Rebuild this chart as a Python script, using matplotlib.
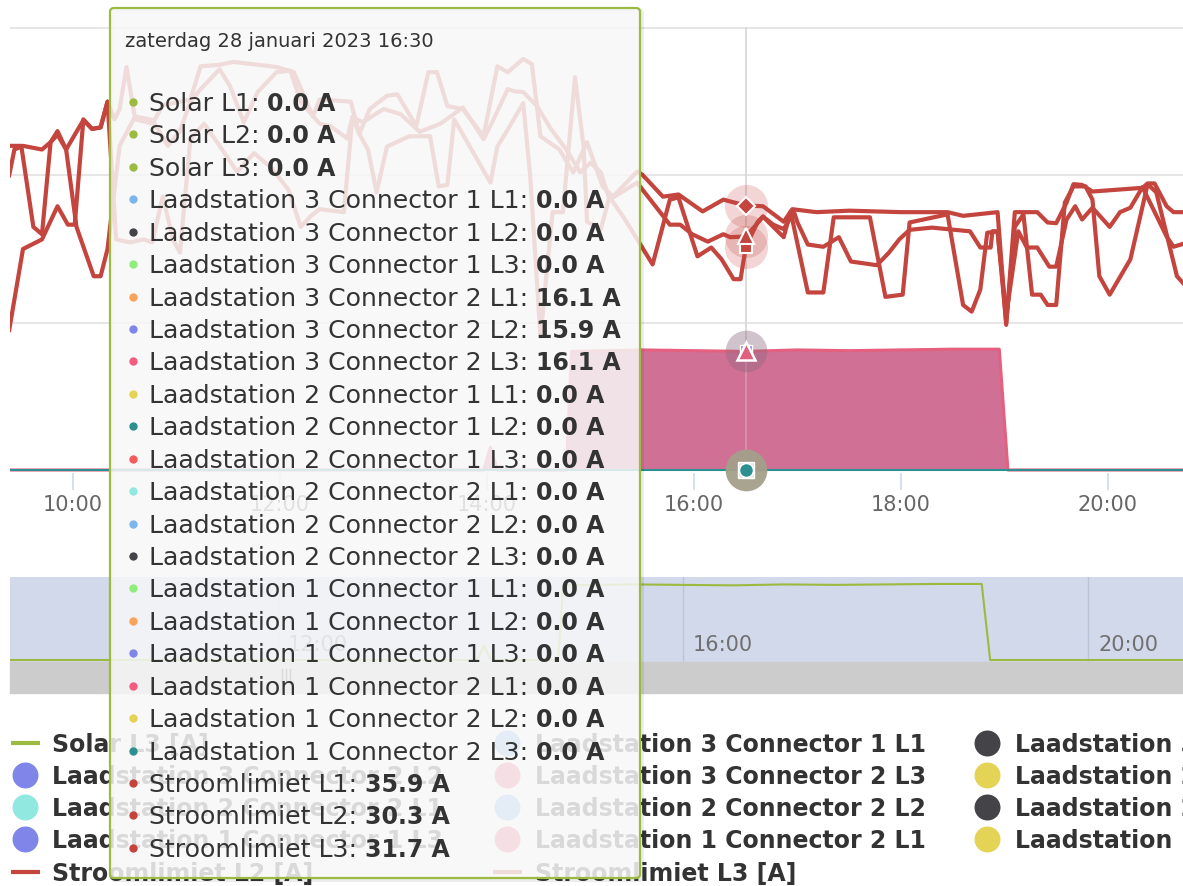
#!/usr/bin/env python3
"""Stroomlimiet + laadstation currents on 28 Jan 2023, Highcharts look with hover tooltip."""

import matplotlib
matplotlib.use('Agg')
import matplotlib.pyplot as plt
import matplotlib.transforms as mtransforms
from matplotlib.patches import FancyBboxPatch, Rectangle
import numpy as np

# ---- data -----------------------------------------------------------------

# Stroomlimiet L1 [A]
l1_times = ["09:23", "09:26", "09:31", "09:42", "09:47", "09:51", "09:56", "10:06", "10:11", "10:16",
            "10:20", "10:24", "10:27", "10:31", "10:36", "10:46", "10:52", "11:02", "11:08", "11:14",
            "11:25", "11:33", "11:58", "12:08", "12:13", "12:19", "12:23", "12:41", "12:46", "12:52",
            "13:02", "13:08", "13:19", "13:26", "13:31", "13:37", "13:46", "13:58", "14:06", "14:12",
            "14:21", "14:26", "14:31", "14:42", "14:50", "14:58", "15:07", "15:13", "15:27", "15:30",
            "15:42", "15:51", "16:05", "16:17", "16:30", "16:40", "16:48", "16:52", "16:57", "17:11",
            "17:30", "18:00", "18:27", "18:36", "18:56", "19:01", "19:06", "19:19", "19:25", "19:30",
            "19:36", "19:40", "19:45", "19:51", "20:20", "20:23", "20:27", "20:34", "20:38", "20:45"]
l1_amps = [40, 43.5, 44, 43.5, 44.5, 46, 43.5, 47.5, 46.3, 46.5,
           50, 47.6, 49, 54.7, 47.6, 47, 49.5, 50, 50.3, 54.8,
           55, 55.4, 54.7, 54, 51.3, 48, 50.3, 50, 45.6, 49,
           50.8, 51, 46.7, 54, 54, 49.4, 49, 45.3, 54.8, 54,
           55.8, 55.1, 45.3, 43.5, 40.4, 44.5, 38.5, 37.1, 40.5, 40.1,
           37.1, 37.4, 35.1, 36.7, 35.9, 35.8, 34.4, 33.7, 35.4, 35,
           35.2, 35, 35, 34.5, 35, 19.7, 35, 35, 33.6, 33.5,
           36.3, 38.8, 38.7, 37.8, 38.3, 38.9, 38.9, 35.8, 35, 35]

# Stroomlimiet L2 [A]
l2_times = ["09:23", "09:31", "09:42", "09:51", "09:57", "10:01", "10:06", "10:11", "10:16", "10:20",
            "10:25", "10:33", "10:41", "10:46", "10:52", "10:58", "11:02", "11:08", "11:16", "11:25",
            "11:35", "11:45", "11:55", "12:05", "12:12", "12:18", "12:23", "12:37", "12:42", "12:46",
            "12:51", "12:56", "13:02", "13:15", "13:27", "13:32", "13:37", "13:41", "14:02", "14:06",
            "14:12", "14:21", "14:25", "14:31", "14:38", "14:44", "14:51", "14:56", "14:58", "15:06",
            "15:11", "15:20", "15:30", "15:36", "15:46", "15:51", "16:02", "16:10", "16:16", "16:23",
            "16:27", "16:30", "16:37", "16:40", "16:52", "16:56", "17:06", "17:15", "17:21", "17:42",
            "17:51", "18:01", "18:05", "18:27", "18:36", "18:41", "18:46", "18:50", "18:56", "19:01",
            "19:06", "19:11", "19:16", "19:21", "19:25", "19:30", "19:35", "19:40", "19:47", "19:51",
            "19:55", "20:01", "20:13", "20:23", "20:28", "20:40", "20:45"]
l2_amps = [19, 30, 31.3, 35.8, 33.3, 33.3, 47.6, 46.3, 46.5, 50,
           31.3, 30.9, 31.3, 30.9, 37.1, 31.3, 29.5, 44.9, 47, 44,
           40.5, 43, 41, 38, 33, 34.5, 35.4, 35, 47.9, 45.6,
           43.5, 37.7, 43.9, 45.3, 45.3, 38.5, 38.7, 47.6, 39, 43.9,
           46.2, 49.8, 40, 18.1, 35, 35, 53.3, 43.9, 33.7, 32.7,
           37.1, 34, 30.2, 27.9, 36.7, 37, 29, 30.2, 28.6, 25.9,
           25.9, 30.3, 33.7, 34.4, 31.6, 35.1, 24.1, 24.1, 34.3, 34.3,
           23.5, 23.8, 33.6, 34.7, 22.4, 21.5, 24.5, 32.2, 32.4, 20,
           33, 34.7, 23.8, 23.8, 22.4, 22.4, 36.3, 38.5, 38.5, 36.7,
           26.3, 23.8, 28.6, 38.8, 37.7, 26.3, 25]

# Stroomlimiet L3 [A]
l3_times = ["09:23", "09:30", "09:37", "09:42", "09:47", "09:51", "09:56", "10:02", "10:12", "10:16",
            "10:20", "10:27", "10:36", "10:46", "10:55", "11:02", "11:08", "11:14", "11:25", "11:31",
            "11:39", "11:47", "11:58", "12:06", "12:12", "12:23", "12:29", "12:39", "12:42", "12:48",
            "13:00", "13:10", "13:21", "13:33", "13:46", "13:58", "14:03", "14:12", "14:16", "14:21",
            "14:29", "14:37", "14:46", "14:54", "15:00", "15:06", "15:11", "15:27", "15:30", "15:46",
            "15:52", "15:59", "16:08", "16:17", "16:21", "16:30", "16:35", "16:40", "16:46", "16:52",
            "16:58", "17:00", "17:06", "17:15", "17:24", "17:31", "17:46", "17:53", "17:59", "18:05",
            "18:18", "18:40", "18:46", "18:52", "18:53", "18:56", "19:01", "19:08", "19:13", "19:19",
            "19:26", "19:30", "19:36", "19:41", "19:45", "19:51", "20:01", "20:07", "20:13", "20:20",
            "20:34", "20:38", "20:45"]
l3_amps = [44, 44, 33, 32, 44.5, 45.5, 43.5, 33, 26.3, 26.3,
           30, 44, 48, 47.5, 44, 46, 50, 51.7, 54.4, 52.1,
           47.2, 51.3, 54, 54.2, 50, 47, 46.7, 45, 47.9, 47.2,
           49, 48.3, 45.9, 47, 49.2, 44.9, 47.2, 51.7, 51.4, 51.3,
           49.4, 46.3, 43.5, 40.4, 41.7, 40.4, 36.7, 39, 38.1, 33.3,
           33.3, 32, 31, 32, 31.6, 31.7, 33, 34.4, 33.3, 32.7,
           35, 33.6, 30.6, 30.3, 31.6, 28.3, 27.8, 29.5, 31.3, 32.6,
           32.9, 32.4, 30.2, 30.2, 32.4, 32.4, 21, 32.4, 30.2, 30.2,
           27.6, 27.6, 34, 35.8, 34, 35.6, 33, 35, 35.6, 38.4,
           31.7, 30.3, 30.8]

# Laadstation 3 Connector 2 (charging session) [A]
laad_times = ["09:20", "13:58", "14:02", "14:06", "14:46", "14:49", "15:30", "16:00", "16:30",
              "17:00", "17:30", "18:00", "18:30", "18:57", "19:02", "20:58"]
laad_amps = [0, 0, 3.1, 0, 0, 16.1, 16.3, 16.2, 16.1, 16.3, 16.2, 16.3, 16.4, 16.4, 0, 0]

hover_time = "16:30"
tick_hours = [10, 12, 14, 16, 18, 20]
tick_labels = ["10:00", "12:00", "14:00", "16:00", "18:00", "20:00"]
nav_hours = [12, 16, 20]
nav_labels = ["12:00", "16:00", "20:00"]

SOLAR = '#9bba3f'
RED = '#c4443e'

tooltip_title = "zaterdag 28 januari 2023 16:30"
tooltip_names = ["Solar L1", "Solar L2", "Solar L3",
                 "Laadstation 3 Connector 1 L1", "Laadstation 3 Connector 1 L2",
                 "Laadstation 3 Connector 1 L3", "Laadstation 3 Connector 2 L1",
                 "Laadstation 3 Connector 2 L2", "Laadstation 3 Connector 2 L3",
                 "Laadstation 2 Connector 1 L1", "Laadstation 2 Connector 1 L2",
                 "Laadstation 2 Connector 1 L3", "Laadstation 2 Connector 2 L1",
                 "Laadstation 2 Connector 2 L2", "Laadstation 2 Connector 2 L3",
                 "Laadstation 1 Connector 1 L1", "Laadstation 1 Connector 1 L2",
                 "Laadstation 1 Connector 1 L3", "Laadstation 1 Connector 2 L1",
                 "Laadstation 1 Connector 2 L2", "Laadstation 1 Connector 2 L3",
                 "Stroomlimiet L1", "Stroomlimiet L2", "Stroomlimiet L3"]
tooltip_amps = [0.0, 0.0, 0.0, 0.0, 0.0, 0.0, 16.1, 15.9, 16.1, 0.0, 0.0, 0.0,
                0.0, 0.0, 0.0, 0.0, 0.0, 0.0, 0.0, 0.0, 0.0, 35.9, 30.3, 31.7]
tooltip_colors = [SOLAR, SOLAR, SOLAR,
                  '#7cb5ec', '#434348', '#90ed7d', '#f7a35c', '#8085e9', '#f15c80',
                  '#e4d354', '#2b908f', '#f45b5b', '#91e8e1', '#7cb5ec', '#434348',
                  '#90ed7d', '#f7a35c', '#8085e9', '#f15c80', '#e4d354', '#2b908f',
                  RED, RED, RED]

# legend, row-major, 3 visible columns
legend_labels = ["Solar L3 [A]", "Laadstation 3 Connector 1 L1", "Laadstation 3 Connector 1 L2",
                 "Laadstation 3 Connector 2 L2", "Laadstation 3 Connector 2 L3", "Laadstation 2 Connector 1 L1",
                 "Laadstation 2 Connector 2 L1", "Laadstation 2 Connector 2 L2", "Laadstation 2 Connector 2 L3",
                 "Laadstation 1 Connector 1 L3", "Laadstation 1 Connector 2 L1", "Laadstation 1 Connector 2 L2",
                 "Stroomlimiet L2 [A]", "Stroomlimiet L3 [A]"]
legend_colors = [SOLAR, '#7cb5ec', '#434348',
                 '#8085e9', '#f15c80', '#e4d354',
                 '#91e8e1', '#7cb5ec', '#434348',
                 '#8085e9', '#f15c80', '#e4d354',
                 RED, RED]
legend_kinds = ['line', 'dot', 'dot', 'dot', 'dot', 'dot', 'dot', 'dot', 'dot',
                'dot', 'dot', 'dot', 'line', 'line']


def hours(ts):
    return np.array([int(t[:2]) + int(t[3:]) / 60 for t in ts])


W, H = 1183, 886
fig = plt.figure(figsize=(W / 100, H / 100), dpi=100)

# ---- main plot ------------------------------------------------------------
ax = fig.add_axes([10 / W, (H - 473) / H, (W - 10) / W, 446.5 / H])
ax.set_xlim(9.391, 20.725)
ax.set_ylim(-0.407, 60.2)
for s in ax.spines.values():
    s.set_visible(False)
ax.set_yticks([20, 40, 60])
ax.tick_params(axis='y', left=False, labelleft=False)
ax.grid(axis='y', color='#e6e6e6', lw=1.4)
ax.set_axisbelow(True)
ax.set_xticks(tick_hours)
ax.set_xticklabels(tick_labels)
ax.tick_params(axis='x', length=12.5, width=1.1, color='#ccd6eb',
               labelsize=15, labelcolor='#666666', pad=3)

hover_h = hours([hover_time])[0]
ax.axvline(hover_h, color='#cccccc', lw=1.2, zorder=1.5)

lh = hours(laad_times)
ax.fill_between(lh, 0, laad_amps, color='#d07095', lw=0, zorder=2)
ax.plot(lh, laad_amps, color='#e5607f', lw=2.2, zorder=2.5)
ax.axhline(0, color='#2b908f', lw=1.5, zorder=2.7)
ax.axvline(hover_h, color='white', alpha=0.25, lw=1.2, zorder=2.8)

stroom = [(l1_times, l1_amps, 'D', 9.5), (l2_times, l2_amps, 's', 9), (l3_times, l3_amps, '^', 12)]
for times, amps, _, _ in stroom:
    ax.plot(hours(times), amps, color=RED, lw=3, solid_joinstyle='round', zorder=4)

# hover state at 16:30
for times, amps, mk, size in stroom:
    v = np.interp(hover_h, hours(times), amps)
    ax.plot(hover_h, v, 'o', ms=31, color=RED, alpha=0.22, mec='none', zorder=5)
for times, amps, mk, size in stroom:
    v = np.interp(hover_h, hours(times), amps)
    ax.plot(hover_h, v, mk, ms=size, color=RED, mec='white', mew=1.5, zorder=6)

v_laad = np.interp(hover_h, lh, laad_amps)
ax.plot(hover_h, v_laad, 'o', ms=30, color='#8e6a7e', alpha=0.4, mec='none', zorder=5)
ax.plot(hover_h, v_laad, 's', ms=9, color='#8085e9', mec='white', mew=1, zorder=6)
ax.plot(hover_h, v_laad, '^', ms=13, color='#e0607f', mec='white', mew=1.8, zorder=6.5)
ax.plot(hover_h, 0, 'o', ms=30, color='#a39f8a', alpha=0.95, mec='none', zorder=5, clip_on=False)
ax.plot(hover_h, 0, 's', ms=12, color='#e9e9e4', mec='white', mew=1, zorder=6, clip_on=False)
ax.plot(hover_h, 0, 'o', ms=10, color='#2b908f', mec='white', mew=1, zorder=6.5, clip_on=False)

# ---- navigator ------------------------------------------------------------
nav = fig.add_axes([10 / W, (H - 662) / H, (W - 10) / W, 85 / H])
nav.set_facecolor('#d1d9ea')
for s in nav.spines.values():
    s.set_visible(False)
nav.set_xticks([])
nav.set_yticks([])
nav.set_xlim(9.353, 20.938)
nav.set_ylim(-0.43, 17.9)
blend = mtransforms.blended_transform_factory(nav.transData, nav.transAxes)
for h, lab in zip(nav_hours, nav_labels):
    nav.axvline(h, color='#bcc5d6', lw=1)
    nav.text(h + 0.1, 0.2, lab, transform=blend, fontsize=15, color='#707070', va='center')
nav.plot(lh, laad_amps, color=SOLAR, lw=1.5)

# ---- overlay (pixel coords): scrollbar, legend, tooltip -------------------
ov = fig.add_axes([0, 0, 1, 1], zorder=10)
ov.set_xlim(0, W)
ov.set_ylim(H, 0)
ov.axis('off')

ov.add_patch(Rectangle((10, 662), W - 10, 31, color='#cccccc', zorder=1))
for gx in (282, 286, 290):
    ov.plot([gx, gx], [669, 681], color='#333333', lw=1, zorder=2)

row_y = [743, 775, 807, 839, 872]
col_marker = [25, 507, 987]
col_text = [52, 535, 1015]
for i, (lab, col, kind) in enumerate(zip(legend_labels, legend_colors, legend_kinds)):
    r, c = divmod(i, 3)
    y, xm = row_y[r], col_marker[c]
    if kind == 'line':
        ov.plot([xm - 14, xm + 15], [y, y], color=col, lw=3, solid_capstyle='butt', zorder=3)
    else:
        ov.plot(xm, y, 'o', ms=18.7, color=col, mec='none', zorder=3)
    ov.text(col_text[c], y + 8.6, lab, fontsize=17, fontweight='bold', color='#333333',
            va='baseline', zorder=3, clip_on=True)

# tooltip
ov.add_patch(FancyBboxPatch((112, 10), 530, 870, boxstyle='round,pad=0,rounding_size=4',
                            fc='none', ec=(0, 0, 0, 0.07), lw=3, zorder=19))
ov.add_patch(FancyBboxPatch((110, 8), 530, 870, boxstyle='round,pad=0,rounding_size=4',
                            fc=(0.969, 0.969, 0.969, 0.85), ec=SOLAR, lw=1.6, zorder=20))
ov.text(125, 47, tooltip_title, fontsize=14, color='#333333', va='baseline', zorder=21)

renderer = fig.canvas.get_renderer()
inv = ov.transData.inverted()
fs_label, fs_value = 18.1, 17.0
space_px = 0.318 * fs_label * 100 / 72
for i, (name, amp, col) in enumerate(zip(tooltip_names, tooltip_amps, tooltip_colors)):
    y = 102 + i * 32.43
    ov.plot(133, y, 'o', ms=6, color=col, mec='none', zorder=21)
    t = ov.text(149, y + 9, f"{name}:", fontsize=fs_label, color='#333333', va='baseline', zorder=21)
    bb = t.get_window_extent(renderer=renderer)
    x_end = inv.transform((bb.x1, bb.y0))[0]
    ov.text(x_end + space_px, y + 9, f"{amp:.1f} A", fontsize=fs_value, fontweight='bold',
            color='#333333', va='baseline', zorder=21)

fig.savefig('out.png', dpi=100, facecolor='white')
plt.close(fig)
